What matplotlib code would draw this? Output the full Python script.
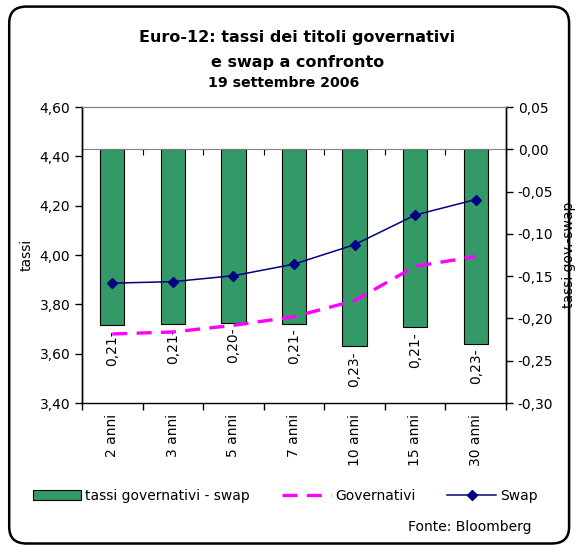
import matplotlib.pyplot as plt
from matplotlib.patches import FancyBboxPatch
import numpy as np

# data
scadenze = ["2 anni", "3 anni", "5 anni", "7 anni", "10 anni", "15 anni", "30 anni"]
governativi = [3.680, 3.688, 3.715, 3.750, 3.815, 3.954, 3.994]
swap = [3.886, 3.892, 3.916, 3.963, 4.042, 4.162, 4.225]
spread = [-0.208, -0.206, -0.205, -0.206, -0.233, -0.210, -0.230]
spread_labels = ["0,21-", "0,21-", "0,20-", "0,21-", "0,23-", "0,21-", "0,23-"]

left_ticks = [3.40, 3.60, 3.80, 4.00, 4.20, 4.40, 4.60]
right_ticks = [-0.30, -0.25, -0.20, -0.15, -0.10, -0.05, 0.00, 0.05]

plt.rcParams['font.family'] = ['DejaVu Sans']
plt.rcParams['font.size'] = 10

def it(v):
    return f"{v:.2f}".replace(".", ",")

fig = plt.figure(figsize=(5.76, 5.49), dpi=100)
ax = fig.add_axes([0.1424, 0.2659, 0.7361, 0.5392])
ax2 = ax.twinx()

x = np.arange(len(scadenze))

# bars on the secondary (right) axis, lines on top on the primary
ax2.bar(x, spread, width=0.40, color='#339966', edgecolor='black', linewidth=0.8,
        label='tassi governativi - swap', zorder=2)
for xi, v, lab in zip(x, spread, spread_labels):
    ax2.text(xi, v - 0.006, lab, rotation=90, ha='center', va='top', fontsize=10)

ax.plot(x, governativi, color='#ff00ff', linewidth=2.4, dashes=(4.5, 2.8),
        label='Governativi', zorder=3)
ax.plot(x, swap, color='#000080', linewidth=1.1, marker='D', markersize=5,
        label='Swap', zorder=4)

ax.set_zorder(ax2.get_zorder() + 1)
ax.patch.set_visible(False)

ax.set_xlim(-0.5, len(scadenze) - 0.5)
ax.set_ylim(3.40, 4.60)
ax2.set_ylim(-0.30, 0.05)

ax.set_yticks(left_ticks)
ax.set_yticklabels([it(v) for v in left_ticks])
ax2.set_yticks(right_ticks)
ax2.set_yticklabels([it(v) for v in right_ticks])

# category boundaries as major ticks, names centred as minor labels
ax.set_xticks(np.arange(len(scadenze) + 1) - 0.5)
ax.set_xticklabels([])
ax.set_xticks(x, minor=True)
ax.set_xticklabels(scadenze, minor=True, rotation=90)
ax.tick_params(axis='x', which='minor', length=0, pad=8)
ax.tick_params(axis='x', which='major', length=5, direction='out', width=1)
ax.tick_params(axis='y', length=5, direction='out', width=1)
ax2.tick_params(axis='y', length=5, direction='out', width=1)

# zero line of the secondary axis with its own ticks
ax2.spines['bottom'].set_position(('data', 0))
ax2.spines['bottom'].set_color('#808080')
ax2.spines['bottom'].set_visible(True)
ax2.xaxis.set_visible(True)
ax2.tick_params(axis='x', which='major', direction='out', length=4, color='black',
                labelbottom=False, bottom=True, top=False)
ax2.tick_params(axis='x', which='minor', length=0, labelbottom=False)

for a in (ax, ax2):
    a.spines['top'].set_color('#808080')
    a.spines['left'].set_linewidth(1)
    a.spines['right'].set_linewidth(1)
ax.spines['bottom'].set_linewidth(1)

ax.set_ylabel('tassi')
ax.yaxis.set_label_coords(-0.113, 0.5)
ax2.set_ylabel('tassi gov.-swap')
ax2.yaxis.set_label_coords(1.132, 0.5)

fig.text(0.515, 0.931, 'Euro-12: tassi dei titoli governativi', ha='center', va='center',
         fontsize=11.5, fontweight='bold')
fig.text(0.517, 0.886, 'e swap a confronto', ha='center', va='center',
         fontsize=11.5, fontweight='bold')
fig.text(0.492, 0.849, '19 settembre 2006', ha='center', va='center',
         fontsize=10.2, fontweight='bold')

h1, l1 = ax2.get_legend_handles_labels()
h2, l2 = ax.get_legend_handles_labels()
fig.legend(h1 + h2, l1 + l2, loc='center', bbox_to_anchor=(0.495, 0.097), ncol=3,
           frameon=False, handlelength=3.5, columnspacing=2.3, handletextpad=0.3,
           fontsize=10)

fig.text(0.922, 0.040, 'Fonte: Bloomberg', ha='right', va='center', fontsize=10)

border = FancyBboxPatch((0.016, 0.010), 0.972, 0.978, boxstyle='round,pad=0,rounding_size=0.03',
                        transform=fig.transFigure, fill=False, edgecolor='black', linewidth=1.8)
fig.patches.append(border)

fig.savefig('out.png', dpi=100)
